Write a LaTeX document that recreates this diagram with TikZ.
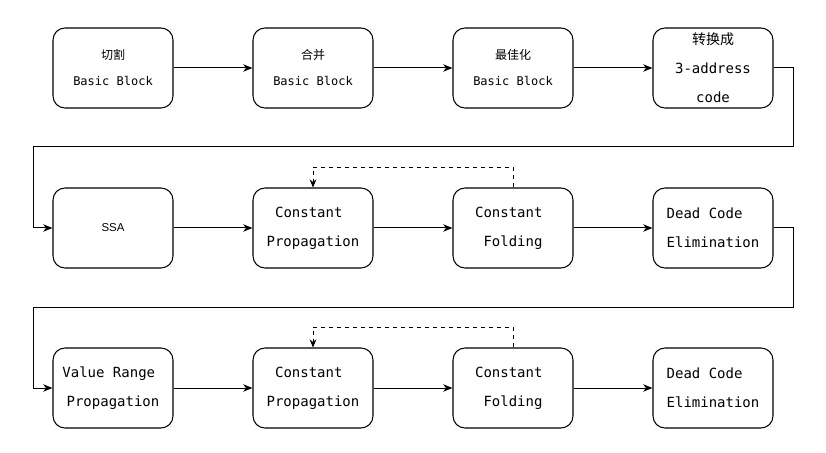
\documentclass[tikz,border=0pt]{standalone}
\usepackage{fontspec}
\setmonofont{DejaVu Sans Mono}
\setsansfont{Liberation Sans}
\newfontfamily\cjk{Noto Sans CJK SC}
\usetikzlibrary{arrows.meta}
\begin{document}
\begin{tikzpicture}[x=0.75pt,y=-0.75pt,
 box/.style={draw, rounded corners=9pt, minimum width=90pt, minimum height=60pt, inner sep=0pt, line width=0.8pt, align=center},
 small/.style={font=\fontsize{9}{19.5}\selectfont\ttfamily},
 big/.style={font=\fontsize{10.5}{21.75}\selectfont\ttfamily},
 conn/.style={line width=0.75pt, -{Stealth[length=7pt,width=5.5pt]}},
 fb/.style={line width=0.75pt, dash pattern=on 3pt off 3pt, -{Stealth[length=6pt,width=5pt]}}]
\useasboundingbox (0,0) rectangle (826,453);
% row 1
\node[box,small] (b1) at (113,68) {{\cjk 切割}\\Basic Block};
\node[box,small] (b2) at (313,68) {{\cjk 合并}\\Basic Block};
\node[box,small] (b3) at (513,68) {{\cjk 最佳化}\\Basic Block};
\node[box,big] (b4) at (713,68) {{\cjk 转换成}\\3-address\\code};
% row 2
\node[box,font=\fontsize{8.6}{10}\selectfont\sffamily] (b5) at (113,228) {SSA};
\node[box,big] (b6) at (313,228) {Constant\hphantom{x}\\Propagation};
\node[box,big] (b7) at (513,228) {Constant\hphantom{x}\\Folding};
\node[box,big] (b8) at (713,228) {Dead Code\hphantom{xx}\\Elimination};
% row 3
\node[box,big] (b9) at (113,388) {Value Range\hphantom{x}\\Propagation};
\node[box,big] (b10) at (313,388) {Constant\hphantom{x}\\Propagation};
\node[box,big] (b11) at (513,388) {Constant\hphantom{x}\\Folding};
\node[box,big] (b12) at (713,388) {Dead Code\hphantom{xx}\\Elimination};
% turn coordinates
\coordinate (t1) at (793,147);
\coordinate (t2) at (33,147);
\coordinate (t3) at (793,307);
\coordinate (t4) at (33,307);
% connectors
\draw[conn] (b1) -- (b2);
\draw[conn] (b2) -- (b3);
\draw[conn] (b3) -- (b4);
\draw[conn] (b4.east) -| (t1) -- (t2) |- (b5.west);
\draw[conn] (b5) -- (b6);
\draw[conn] (b6) -- (b7);
\draw[conn] (b7) -- (b8);
\draw[conn] (b8.east) -| (t3) -- (t4) |- (b9.west);
\draw[conn] (b9) -- (b10);
\draw[conn] (b10) -- (b11);
\draw[conn] (b11) -- (b12);
% feedback
\draw[fb] (b7.north) -- ++(0,-20) -| (b6.north);
\draw[fb] (b11.north) -- ++(0,-20) -| (b10.north);
\end{tikzpicture}
\end{document}
